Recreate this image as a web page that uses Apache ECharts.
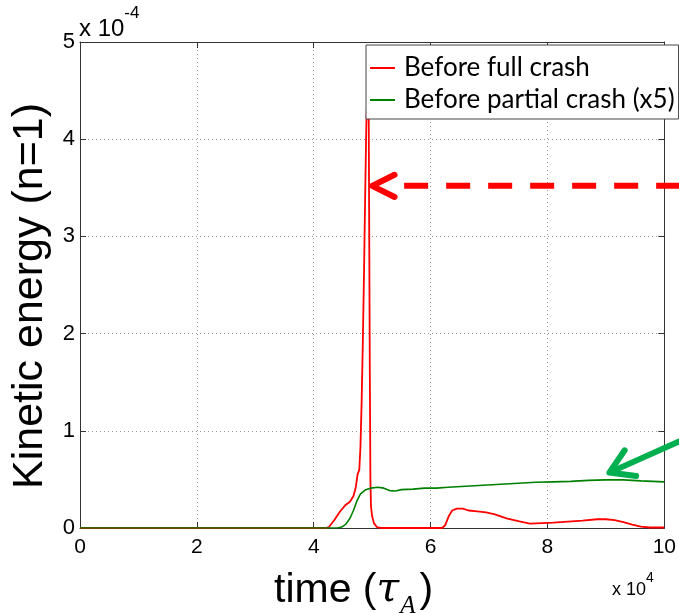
<!DOCTYPE html>
<html>
<head>
<meta charset="utf-8">
<script src="https://cdn.jsdelivr.net/npm/echarts@6/dist/echarts.min.js"></script>
<style>
  html, body { margin: 0; padding: 0; background: #ffffff; }
  #chart { width: 679px; height: 613px; }
</style>
</head>
<body>
<div id="chart"></div>
<script>
// Time is in units of 1e4 tau_A, kinetic energy in units of 1e-4.
const fullCrashTime = [0, 4.2, 4.26, 4.35, 4.45, 4.55, 4.62, 4.68, 4.72, 4.75, 4.78, 4.8, 4.82, 4.84, 4.86, 4.88, 4.9, 4.92, 4.94, 4.95, 4.96, 4.97, 4.98, 5.0, 5.03, 5.08, 5.15, 6.2, 6.25, 6.31, 6.37, 6.45, 6.55, 6.65, 6.8, 6.95, 7.1, 7.3, 7.5, 7.7, 7.9, 8.1, 8.35, 8.6, 8.85, 9.0, 9.15, 9.3, 9.45, 9.6, 9.75, 10];
const fullCrashEnergy = [0, 0, 0.01, 0.08, 0.17, 0.24, 0.27, 0.33, 0.42, 0.55, 0.6, 0.84, 1.3, 1.9, 2.6, 3.4, 4.15, 4.5, 4.4, 3.0, 1.6, 0.5, 0.22, 0.12, 0.05, 0.01, 0, 0, 0.03, 0.12, 0.18, 0.2, 0.2, 0.18, 0.17, 0.16, 0.14, 0.1, 0.07, 0.045, 0.05, 0.055, 0.065, 0.075, 0.09, 0.09, 0.08, 0.06, 0.035, 0.015, 0.005, 0.005];
// Partial-crash energy already multiplied by 5.
const partialCrashTime = [0, 4.4, 4.48, 4.55, 4.62, 4.68, 4.74, 4.8, 4.88, 4.97, 5.1, 5.2, 5.3, 5.4, 5.5, 5.7, 5.9, 6.1, 6.3, 6.6, 6.9, 7.2, 7.5, 7.8, 8.1, 8.4, 8.7, 9.0, 9.3, 9.6, 10];
const partialCrashEnergy = [0, 0, 0.01, 0.04, 0.1, 0.18, 0.28, 0.35, 0.39, 0.41, 0.42, 0.41, 0.385, 0.38, 0.395, 0.4, 0.41, 0.41, 0.42, 0.43, 0.44, 0.45, 0.46, 0.47, 0.475, 0.48, 0.49, 0.495, 0.495, 0.485, 0.475];
const seriesNames = ['Before full crash', 'Before partial crash (x5)'];
const seriesColors = ['#ff0000', '#008000'];
const xRange = [0, 10, 2];
const yRange = [0, 5, 1];
// Arrow annotations: tip positions in data units.
const fullCrashArrowTip = [5.0, 3.52];
const partialCrashArrowTip = [9.06, 0.57];

const pairs = (xs, ys) => xs.map((x, i) => [x, ys[i]]);

const axisColor = '#333333';
const tickFont = 'Liberation Sans, Arial, sans-serif';

function boxAxis(position, isX) {
  return {
    type: 'value',
    position: position,
    min: isX ? xRange[0] : yRange[0],
    max: isX ? xRange[1] : yRange[1],
    interval: isX ? xRange[2] : yRange[2],
    axisLine: { show: true, onZero: false, lineStyle: { color: axisColor, width: 1 } },
    axisTick: { show: true, inside: true, length: 6, lineStyle: { color: axisColor } },
    axisLabel: { show: false },
    splitLine: { show: false }
  };
}

const chart = echarts.init(document.getElementById('chart'), null, { renderer: 'canvas' });

const option = {
  animation: false,
  backgroundColor: '#ffffff',
  grid: { left: 80, right: 13, top: 42, bottom: 85, containLabel: false },
  xAxis: [
    {
      type: 'value',
      position: 'bottom',
      min: xRange[0], max: xRange[1], interval: xRange[2],
      axisLine: { show: true, onZero: false, lineStyle: { color: axisColor, width: 1 } },
      axisTick: { show: true, inside: true, length: 6, lineStyle: { color: axisColor } },
      axisLabel: { fontSize: 21, color: '#000', fontFamily: tickFont, margin: 9 },
      splitLine: { show: true, lineStyle: { color: '#9a9a9a', type: [1, 3], width: 1 } }
    },
    boxAxis('top', true)
  ],
  yAxis: [
    {
      type: 'value',
      position: 'left',
      min: yRange[0], max: yRange[1], interval: yRange[2],
      axisLine: { show: true, onZero: false, lineStyle: { color: axisColor, width: 1 } },
      axisTick: { show: true, inside: true, length: 6, lineStyle: { color: axisColor } },
      axisLabel: { fontSize: 22, color: '#000', fontFamily: tickFont, margin: 5 },
      splitLine: { show: true, lineStyle: { color: '#9a9a9a', type: [1, 3], width: 1 } },
      name: 'Kinetic energy (n=1)',
      nameLocation: 'middle',
      nameRotate: 90,
      nameGap: 10,
      nameTextStyle: { fontSize: 43, color: '#000', fontFamily: tickFont, padding: [0, 22, 0, 0] }
    },
    boxAxis('right', false)
  ],
  legend: {
    data: seriesNames,
    orient: 'vertical',
    left: 366, top: 45,
    icon: 'rect',
    itemWidth: 25, itemHeight: 2,
    itemGap: 6,
    padding: [10, 4, 6, 4],
    backgroundColor: '#ffffff',
    borderColor: '#444444',
    borderWidth: 1,
    borderRadius: 0,
    textStyle: { fontSize: 26, color: '#000', fontFamily: 'Lato, "Open Sans", sans-serif', padding: [0, 0, 0, 4] }
  },
  series: [
    {
      name: seriesNames[0],
      type: 'line',
      data: pairs(fullCrashTime, fullCrashEnergy),
      showSymbol: false,
      symbol: 'none',
      smooth: false,
      lineStyle: { color: seriesColors[0], width: 1.8 },
      itemStyle: { color: seriesColors[0] },
      z: 3
    },
    {
      name: seriesNames[1],
      type: 'line',
      data: pairs(partialCrashTime, partialCrashEnergy),
      showSymbol: false,
      symbol: 'none',
      smooth: false,
      lineStyle: { color: seriesColors[1], width: 1.6 },
      itemStyle: { color: seriesColors[1] },
      z: 3
    }
  ]
};
chart.setOption(option);

// Annotations built after the axes exist, anchored at data coordinates.
const redTip = chart.convertToPixel({ xAxisIndex: 0, yAxisIndex: 0 }, fullCrashArrowTip);
const greenTip = chart.convertToPixel({ xAxisIndex: 0, yAxisIndex: 0 }, partialCrashArrowTip);
const W = chart.getWidth();

function arrowHead(tip, dir, len, spread) {
  // dir: unit vector pointing from tip back along the shaft
  const rot = (v, a) => [v[0] * Math.cos(a) - v[1] * Math.sin(a), v[0] * Math.sin(a) + v[1] * Math.cos(a)];
  const a1 = rot(dir, spread), a2 = rot(dir, -spread);
  return [[tip[0] + a1[0] * len, tip[1] + a1[1] * len], tip, [tip[0] + a2[0] * len, tip[1] + a2[1] * len]];
}

const greenStart = [W + 2, greenTip[1] - 32];
const gdx = greenStart[0] - greenTip[0], gdy = greenStart[1] - greenTip[1];
const gl = Math.hypot(gdx, gdy);
const gdir = [gdx / gl, gdy / gl];

chart.setOption({
  graphic: [
    {
      type: 'line', silent: true, z: 100,
      shape: { x1: redTip[0] + 32, y1: redTip[1], x2: W + 5, y2: redTip[1] },
      style: { stroke: '#ff0000', lineWidth: 6, lineDash: [24, 18] }
    },
    {
      type: 'polyline', silent: true, z: 100,
      shape: { points: arrowHead(redTip, [1, 0], 25, 0.46) },
      style: { stroke: '#ff0000', lineWidth: 6, lineCap: 'round', lineJoin: 'round', fill: null }
    },
    {
      type: 'line', silent: true, z: 100,
      shape: { x1: greenStart[0], y1: greenStart[1], x2: greenTip[0] + gdir[0] * 3, y2: greenTip[1] + gdir[1] * 3 },
      style: { stroke: '#00b050', lineWidth: 6 }
    },
    {
      type: 'polyline', silent: true, z: 100,
      shape: { points: arrowHead(greenTip, gdir, 27, 0.55) },
      style: { stroke: '#00b050', lineWidth: 6, lineCap: 'round', lineJoin: 'round', fill: null }
    },
    {
      type: 'text', silent: true, z: 100,
      left: 79, top: 5,
      style: {
        text: '{b|x 10}{s|-4}',
        fill: '#000',
        rich: {
          b: { fontSize: 24, fontFamily: tickFont, verticalAlign: 'bottom', padding: [12, 0, 0, 0] },
          s: { fontSize: 17, fontFamily: tickFont, verticalAlign: 'top' }
        }
      }
    },
    {
      type: 'text', silent: true, z: 100,
      left: 612, top: 571,
      style: {
        text: '{b|x 10}{s|4}',
        fill: '#000',
        rich: {
          b: { fontSize: 18, fontFamily: tickFont, verticalAlign: 'bottom', padding: [10, 0, 0, 0] },
          s: { fontSize: 14, fontFamily: tickFont, verticalAlign: 'top' }
        }
      }
    },
    {
      type: 'text', silent: true, z: 100,
      left: 274, top: 570,
      style: {
        text: '{t|time (}{g|τ}{a|A}{t|)}',
        fill: '#000',
        rich: {
          t: { fontSize: 41, fontFamily: tickFont, verticalAlign: 'bottom', padding: [0, 0, 8, 0] },
          g: { fontSize: 41, fontFamily: '"DejaVu Serif", "Liberation Serif", serif', fontStyle: 'italic', verticalAlign: 'bottom', padding: [0, 1, 8, 0] },
          a: { fontSize: 25, fontFamily: '"Liberation Serif", "DejaVu Serif", serif', fontStyle: 'italic', verticalAlign: 'bottom', padding: [0, 4, 0, 0] }
        }
      }
    }
  ]
});
</script>
</body>
</html>
